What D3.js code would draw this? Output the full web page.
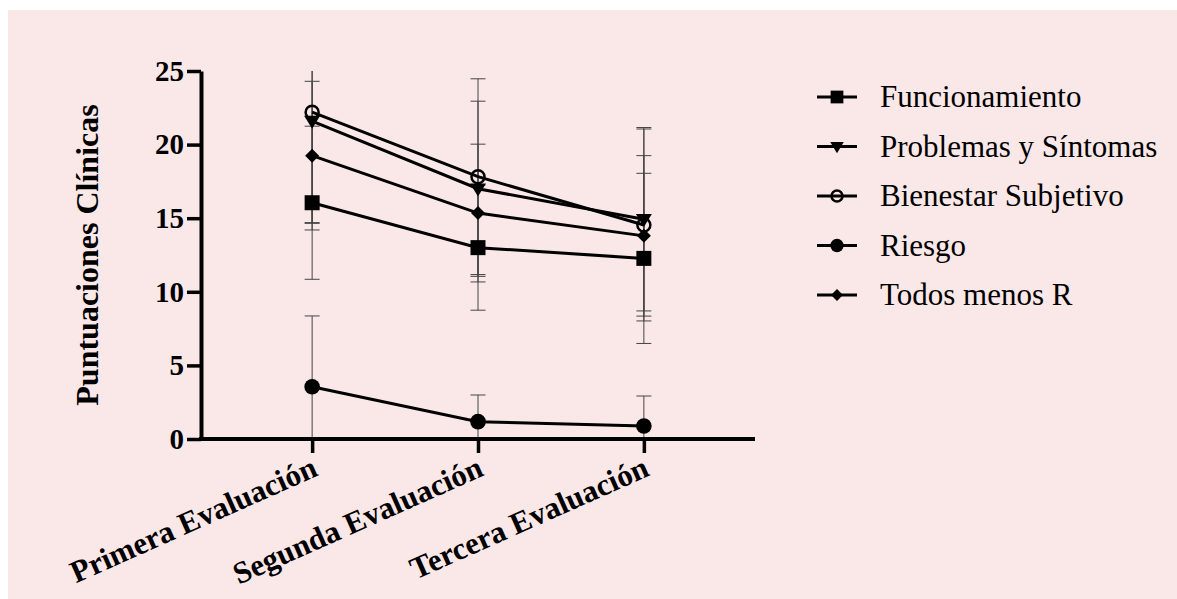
<!DOCTYPE html>
<html>
<head>
<meta charset="utf-8">
<script src="https://cdn.jsdelivr.net/npm/d3@7"></script>
<style>
  body { margin: 0; background: #fff; }
  svg text { font-family: "Liberation Serif", "DejaVu Serif", serif; fill: #000; }
</style>
</head>
<body>
<svg id="chart" width="1177" height="599"></svg>
<script>
// chart values
const categories = ["Primera Evaluación", "Segunda Evaluación", "Tercera Evaluación"];
const seriesNames = ["Funcionamiento", "Problemas y Síntomas", "Bienestar Subjetivo", "Riesgo", "Todos menos R"];
const funcionamiento = [16.05, 13.0, 12.27];
const funcionamientoSD = [5.2, 4.25, 5.78];
const problemas = [21.6, 17.0, 14.93];
const problemasSD = [6.95, 5.95, 6.23];
const bienestar = [22.2, 17.82, 14.54];
const bienestarSD = [7.5, 6.65, 6.52];
const riesgo = [3.55, 1.18, 0.88];
const riesgoSD = [4.81, 1.81, 2.04];
const todos = [19.25, 15.35, 13.8];
const todosSD = [5.05, 4.68, 5.45];
const yTicks = [0, 5, 10, 15, 20, 25];

const FONT = "'Liberation Serif', 'DejaVu Serif', serif";

const series = [
    { name: seriesNames[0], values: funcionamiento, sd: funcionamientoSD, symbol: "square" },
    { name: seriesNames[1], values: problemas, sd: problemasSD, symbol: "triangle" },
    { name: seriesNames[2], values: bienestar, sd: bienestarSD, symbol: "open" },
    { name: seriesNames[3], values: riesgo, sd: riesgoSD, symbol: "circle" },
    { name: seriesNames[4], values: todos, sd: todosSD, symbol: "diamond" }
];

const svg = d3.select("#chart");

// pink panel
svg.append("rect")
    .attr("x", 8).attr("y", 10)
    .attr("width", 1177 - 8).attr("height", 599 - 10)
    .attr("fill", "#fae8e8");

const x = d3.scalePoint()
    .domain(categories)
    .range([201, 755])
    .padding(0.67);

const y = d3.scaleLinear()
    .domain([0, 25])
    .range([439, 71]);

// error bars (clipped to the axis range)
const errG = svg.append("g");
series.forEach(s => {
    s.values.forEach((v, i) => {
        const cx = x(categories[i]);
        const hi = v + s.sd[i], lo = v - s.sd[i];
        errG.append("line")
            .attr("x1", cx).attr("x2", cx)
            .attr("y1", y(Math.min(hi, 25))).attr("y2", y(Math.max(lo, 0)))
            .attr("stroke", "#444").attr("stroke-width", 1);
        [hi, lo].forEach(e => {
            if (e <= 25 && e >= 0) {
                errG.append("line")
                    .attr("x1", cx - 7.5).attr("x2", cx + 7.5)
                    .attr("y1", y(e)).attr("y2", y(e))
                    .attr("stroke", "#444").attr("stroke-width", 1);
            }
        });
    });
});

// axes
const yAxis = svg.append("g")
    .attr("transform", "translate(201,0)")
    .call(d3.axisLeft(y).tickValues(yTicks).tickSize(14).tickSizeOuter(0).tickPadding(3));
const xAxis = svg.append("g")
    .attr("transform", "translate(0,439)")
    .call(d3.axisBottom(x).tickSize(14).tickSizeOuter(0).tickFormat(""));
xAxis.select(".domain").attr("d", "M199,0H755");
[yAxis, xAxis].forEach(a => {
    a.select(".domain").attr("stroke", "#000").attr("stroke-width", 4);
    a.selectAll(".tick line").attr("stroke", "#000").attr("stroke-width", 3.5);
});
yAxis.selectAll(".tick text")
    .attr("font-family", FONT)
    .style("font-family", FONT)
    .style("font-size", "29px")
    .style("font-weight", "bold")
    .attr("fill", "#000");

// x labels, rotated
svg.append("g").selectAll("text")
    .data(categories)
    .enter()
    .append("text")
        .attr("transform", d => "translate(" + (x(d) + 7) + ",475) rotate(-24)")
        .attr("text-anchor", "end")
        .style("font-family", FONT)
        .style("font-size", "31px")
        .style("font-weight", "bold")
        .text(d => d);

// y title
svg.append("text")
    .attr("transform", "translate(98,255) rotate(-90)")
    .attr("text-anchor", "middle")
    .style("font-family", FONT)
    .style("font-size", "32px")
    .style("font-weight", "bold")
    .text("Puntuaciones Clínicas");

function drawSymbol(g, kind, cx, cy, k) {
    if (kind === "square") {
        g.append("rect")
            .attr("x", cx - 7.5 * k).attr("y", cy - 7.5 * k)
            .attr("width", 15 * k).attr("height", 15 * k)
            .attr("fill", "#000");
    } else if (kind === "triangle") {
        const w = 8 * k, h = 13 * k;
        g.append("path")
            .attr("d", "M" + (cx - w) + "," + (cy - h * 0.4) + "L" + (cx + w) + "," + (cy - h * 0.4) + "L" + cx + "," + (cy + h * 0.6) + "Z")
            .attr("fill", "#000");
    } else if (kind === "open") {
        g.append("circle")
            .attr("cx", cx).attr("cy", cy).attr("r", 6.5 * k)
            .attr("fill", "none").attr("stroke", "#000").attr("stroke-width", 2.5);
    } else if (kind === "circle") {
        g.append("circle")
            .attr("cx", cx).attr("cy", cy).attr("r", 7.8 * k)
            .attr("fill", "#000");
    } else if (kind === "diamond") {
        const r = 7 * k;
        g.append("path")
            .attr("d", "M" + cx + "," + (cy - r) + "L" + (cx + r) + "," + cy + "L" + cx + "," + (cy + r) + "L" + (cx - r) + "," + cy + "Z")
            .attr("fill", "#000");
    }
}

// lines and markers
const line = d3.line()
    .x((d, i) => x(categories[i]))
    .y(d => y(d));
const markG = svg.append("g");
series.forEach(s => {
    markG.append("path")
        .attr("d", line(s.values))
        .attr("fill", "none")
        .attr("stroke", "#000")
        .attr("stroke-width", 3);
    s.values.forEach((v, i) => drawSymbol(markG, s.symbol, x(categories[i]), y(v), 1));
});

// legend
const legend = svg.append("g");
series.forEach((s, i) => {
    const ly = 97 + i * 49.5;
    legend.append("line")
        .attr("x1", 817).attr("x2", 857)
        .attr("y1", ly).attr("y2", ly)
        .attr("stroke", "#000").attr("stroke-width", 3);
    drawSymbol(legend, s.symbol, 837, ly, 0.85);
    legend.append("text")
        .attr("x", 880).attr("y", ly + 10)
        .style("font-family", FONT)
        .style("font-size", "31px")
        .text(s.name);
});
</script>
</body>
</html>
